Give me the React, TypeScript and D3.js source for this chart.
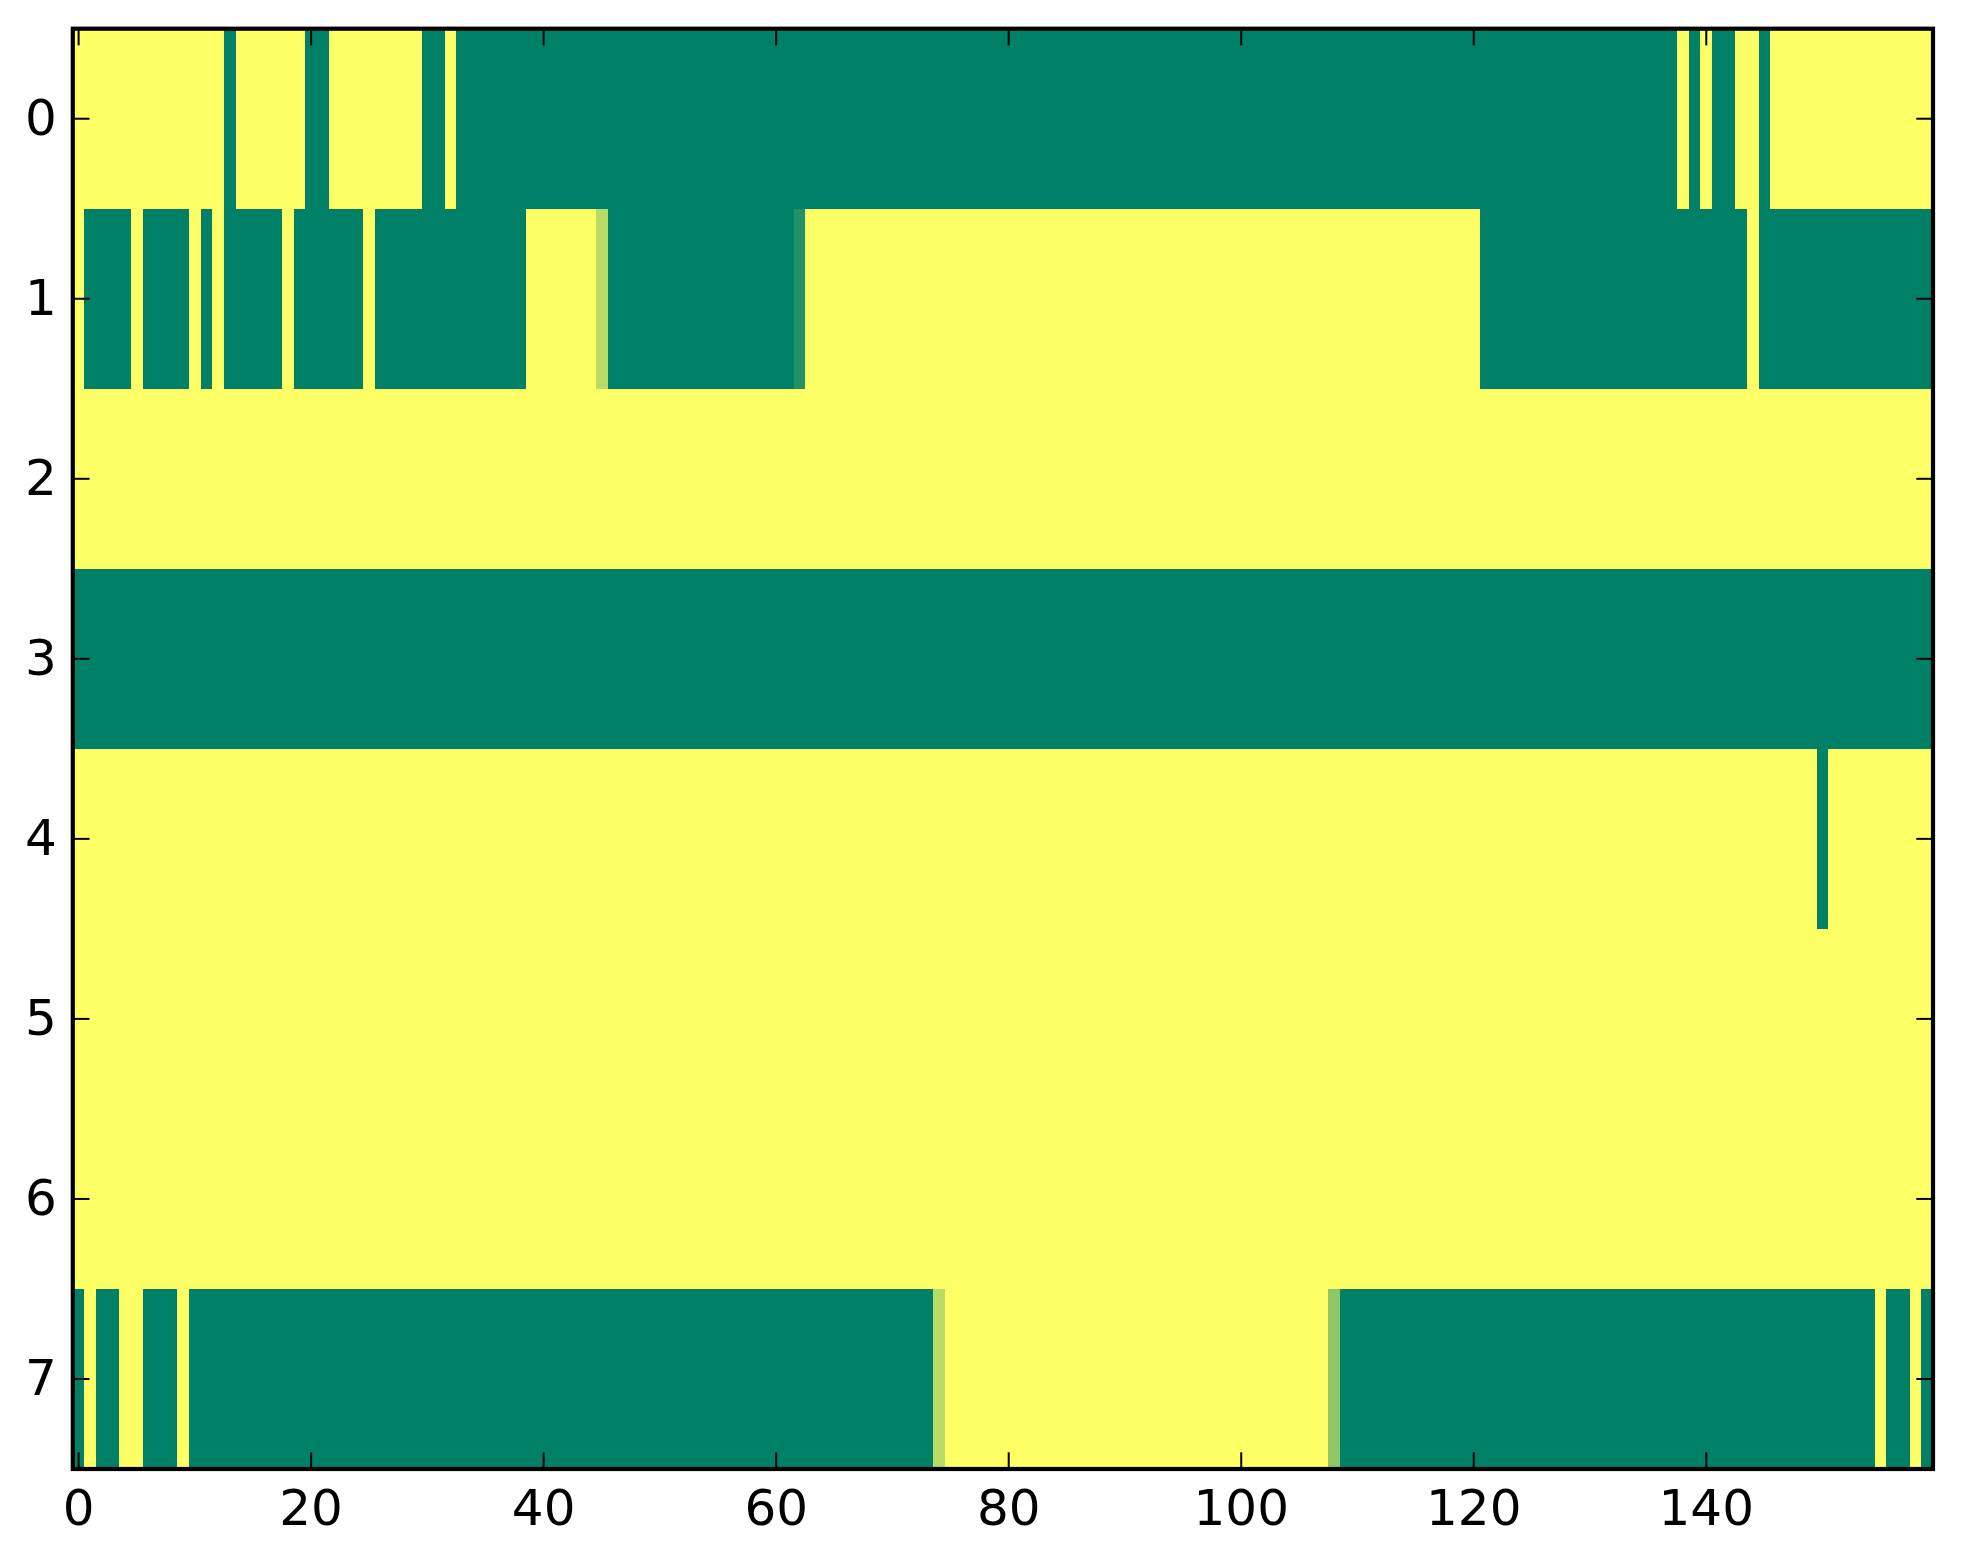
import { useMemo } from "react";
import * as d3 from "d3";

// each row of the image as [value, run length] pairs, read left to right
const row0Runs: [number, number][] = [
  [1, 13], [0, 1], [1, 6], [0, 2], [1, 8], [0, 2], [1, 1], [0, 105],
  [1, 1], [0, 1], [1, 1], [0, 2], [1, 2], [0, 1], [1, 14],
];
const row1Runs: [number, number][] = [
  [1, 1], [0, 4], [1, 1], [0, 4], [1, 1], [0, 1], [1, 1], [0, 5], [1, 1],
  [0, 6], [1, 1], [0, 13], [1, 6], [0.72, 1], [0, 16], [0.13, 1], [1, 58],
  [0, 23], [1, 1], [0, 15],
];
const row2Runs: [number, number][] = [[1, 160]];
const row3Runs: [number, number][] = [[0, 160]];
const row4Runs: [number, number][] = [[1, 150], [0, 1], [1, 9]];
const row5Runs: [number, number][] = [[1, 160]];
const row6Runs: [number, number][] = [[1, 160]];
const row7Runs: [number, number][] = [
  [0, 1], [1, 1], [0, 2], [1, 2], [0, 3], [1, 1], [0, 64], [0.72, 1],
  [1, 33], [0.56, 1], [0, 46], [1, 1], [0, 2], [1, 1], [0, 1],
];

const rowRuns = [row0Runs, row1Runs, row2Runs, row3Runs, row4Runs, row5Runs, row6Runs, row7Runs];

const xTicks = [0, 20, 40, 60, 80, 100, 120, 140];
const yTicks = [0, 1, 2, 3, 4, 5, 6, 7];

const nCols = 160;
const nRows = 8;

export default function App() {
  const width = 1963;
  const height = 1564;
  const left = 72.8;
  const right = 1933;
  const top = 28.7;
  const bottom = 1469;
  const tickLen = 16.7;
  const fontSize = 50;

  const x = d3.scaleLinear().domain([-0.5, nCols - 0.5]).range([left, right]);
  const y = d3.scaleLinear().domain([-0.5, nRows - 0.5]).range([top, bottom]);
  // summer colormap: linear from green to yellow
  const color = d3.scaleLinear<string>().domain([0, 1]).range(["#008066", "#ffff66"]).interpolate(d3.interpolateRgb);

  const cells = useMemo(() => {
    const out: { r: number; c: number; v: number }[] = [];
    rowRuns.forEach((runs, r) => {
      let c = 0;
      runs.forEach(([v, n]) => {
        for (let k = 0; k < n; k++) out.push({ r, c: c + k, v });
        c += n;
      });
    });
    return out;
  }, []);

  return (
    <svg
      width={width}
      height={height}
      style={{ position: "absolute", left: 0, top: 0, background: "#fff" }}
      fontFamily="DejaVu Sans"
    >
      <g shapeRendering="crispEdges">
        {cells.map((d) => (
          <rect
            key={`${d.r}-${d.c}`}
            x={x(d.c - 0.5)}
            y={y(d.r - 0.5)}
            width={x(d.c + 0.5) - x(d.c - 0.5)}
            height={y(d.r + 0.5) - y(d.r - 0.5)}
            fill={color(d.v)}
          />
        ))}
      </g>

      {/* ticks on all four sides, pointing inward */}
      <g stroke="#000" strokeWidth={2}>
        {xTicks.map((t) => (
          <g key={`xt${t}`}>
            <line x1={x(t)} x2={x(t)} y1={bottom} y2={bottom - tickLen} />
            <line x1={x(t)} x2={x(t)} y1={top} y2={top + tickLen} />
          </g>
        ))}
        {yTicks.map((t) => (
          <g key={`yt${t}`}>
            <line x1={left} x2={left + tickLen} y1={y(t)} y2={y(t)} />
            <line x1={right} x2={right - tickLen} y1={y(t)} y2={y(t)} />
          </g>
        ))}
      </g>

      <rect x={left} y={top} width={right - left} height={bottom - top} fill="none" stroke="#000" strokeWidth={4.2} />

      <g fontSize={fontSize} fill="#000">
        {xTicks.map((t) => (
          <text key={`xl${t}`} x={x(t)} y={bottom + 55.5} textAnchor="middle">
            {t}
          </text>
        ))}
        {yTicks.map((t) => (
          <text key={`yl${t}`} x={left - 16} y={y(t)} dy="0.32em" textAnchor="end">
            {t}
          </text>
        ))}
      </g>
    </svg>
  );
}
